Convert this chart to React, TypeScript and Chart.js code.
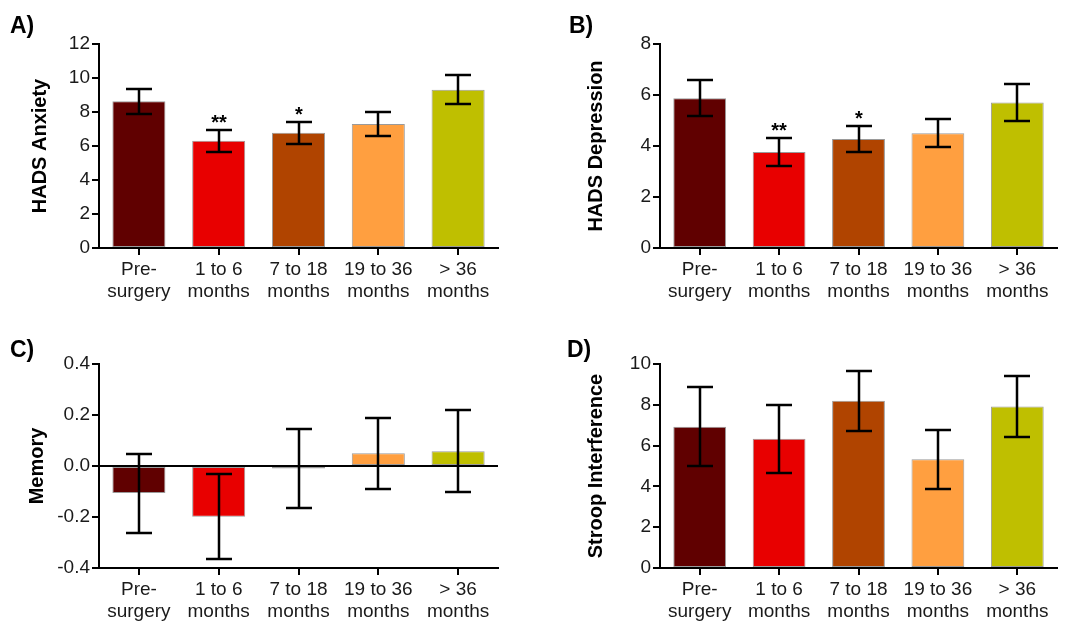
import React, { useEffect, useRef } from "react";
import { Chart, registerables } from "chart.js";

Chart.register(...registerables);

const categories: string[][] = [
  ["Pre-", "surgery"],
  ["1 to 6", "months"],
  ["7 to 18", "months"],
  ["19 to 36", "months"],
  ["> 36", "months"],
];
const barColors = ["#600000", "#E80000", "#B04400", "#FF9F40", "#BFBF00"];

const anxietyMean = [8.63, 6.31, 6.78, 7.29, 9.31];
const anxietyErr = [0.73, 0.65, 0.65, 0.72, 0.86];
const anxietySig = ["", "**", "*", "", ""];

const depressionMean = [5.87, 3.76, 4.27, 4.5, 5.71];
const depressionErr = [0.7, 0.55, 0.5, 0.55, 0.72];
const depressionSig = ["", "**", "*", "", ""];

const memoryMean = [-0.106, -0.199, -0.01, 0.05, 0.058];
const memoryErr = [0.155, 0.166, 0.156, 0.14, 0.161];
const memorySig = ["", "", "", "", ""];

const stroopMean = [6.93, 6.34, 8.2, 5.33, 7.92];
const stroopErr = [1.93, 1.67, 1.47, 1.45, 1.49];
const stroopSig = ["", "", "", "", ""];

const FONT = "'Liberation Sans', Arial, sans-serif";

type Panel = {
  label: string;
  title: string;
  mean: number[];
  err: number[];
  sig: string[];
  min: number;
  max: number;
  step: number;
  decimals: number;
  zeroLine: boolean;
  left: number;
  top: number;
  width: number;
  height: number;
  axisW: number;
  padTop: number;
  padRight: number;
  axisH: number;
  titlePad: number;
  labelX: number;
  labelY: number;
};

const panels: Panel[] = [
  {
    label: "A)", title: "HADS Anxiety", mean: anxietyMean, err: anxietyErr, sig: anxietySig,
    min: 0, max: 12, step: 2, decimals: 0, zeroLine: false,
    left: 0, top: 0, width: 534, height: 310,
    axisW: 99, padTop: 44, padRight: 36, axisH: 62, titlePad: 28, labelX: 10, labelY: 33,
  },
  {
    label: "B)", title: "HADS Depression", mean: depressionMean, err: depressionErr, sig: depressionSig,
    min: 0, max: 8, step: 2, decimals: 0, zeroLine: false,
    left: 534, top: 0, width: 534, height: 310,
    axisW: 126, padTop: 44, padRight: 11, axisH: 62, titlePad: 50, labelX: 35, labelY: 33,
  },
  {
    label: "C)", title: "Memory", mean: memoryMean, err: memoryErr, sig: memorySig,
    min: -0.4, max: 0.4, step: 0.2, decimals: 1, zeroLine: true,
    left: 0, top: 310, width: 534, height: 311,
    axisW: 99, padTop: 54, padRight: 36, axisH: 53, titlePad: 25, labelX: 10, labelY: 47,
  },
  {
    label: "D)", title: "Stroop Interference", mean: stroopMean, err: stroopErr, sig: stroopSig,
    min: 0, max: 10, step: 2, decimals: 0, zeroLine: false,
    left: 534, top: 310, width: 534, height: 311,
    axisW: 126, padTop: 54, padRight: 11, axisH: 53, titlePad: 50, labelX: 33, labelY: 47,
  },
];

function PanelChart({ p }: { p: Panel }) {
  const ref = useRef<HTMLCanvasElement | null>(null);
  useEffect(() => {
    if (!ref.current) return;
    const overlay = {
      id: "errbars",
      afterDatasetsDraw(chart: any) {
        const ctx = chart.ctx;
        const meta = chart.getDatasetMeta(0);
        const ys = chart.scales.y;
        ctx.save();
        ctx.strokeStyle = "#000";
        ctx.lineWidth = 2.5;
        meta.data.forEach((bar: any, i: number) => {
          const m = p.mean[i];
          const e = p.err[i];
          const x = Math.round(bar.x);
          const yh = Math.round(ys.getPixelForValue(m + e));
          const yl = Math.round(ys.getPixelForValue(m - e));
          ctx.beginPath();
          ctx.moveTo(x, yh);
          ctx.lineTo(x, yl);
          ctx.moveTo(x - 13, yh);
          ctx.lineTo(x + 13, yh);
          ctx.moveTo(x - 13, yl);
          ctx.lineTo(x + 13, yl);
          ctx.stroke();
          if (p.sig[i]) {
            ctx.fillStyle = "#000";
            ctx.font = `bold 20px ${FONT}`;
            ctx.textAlign = "center";
            ctx.textBaseline = "alphabetic";
            ctx.fillText(p.sig[i], x, yh - 1);
          }
        });
        ctx.fillStyle = "#000";
        ctx.font = `bold 23px ${FONT}`;
        ctx.textAlign = "left";
        ctx.textBaseline = "alphabetic";
        ctx.fillText(p.label, p.labelX, p.labelY);
        ctx.restore();
      },
    };
    const chart = new Chart(ref.current, {
      type: "bar",
      data: {
        labels: categories,
        datasets: [
          {
            data: p.mean,
            backgroundColor: barColors,
            borderColor: "#9a9a9a",
            borderWidth: 1,
            borderSkipped: false,
            categoryPercentage: 1,
            barPercentage: 0.665,
          },
        ],
      },
      options: {
        animation: false,
        responsive: false,
        devicePixelRatio: 1,
        layout: { padding: { left: 0, top: p.padTop, right: p.padRight, bottom: 0 } },
        plugins: { legend: { display: false }, tooltip: { enabled: false }, title: { display: false } },
        scales: {
          x: {
            type: "category",
            offset: true,
            afterFit: (s: any) => {
              s.height = p.axisH;
            },
            grid: {
              offset: false,
              drawOnChartArea: false,
              drawTicks: true,
              tickLength: 7,
              tickColor: "#000",
              lineWidth: 2,
              z: 1,
            },
            border: { display: true, color: "#000", width: 2, z: 1 },
            ticks: {
              color: "#1a1a1a",
              font: { family: FONT, size: 19 },
              padding: 3,
              maxRotation: 0,
              autoSkip: false,
            },
          },
          y: {
            type: "linear",
            min: p.min,
            max: p.max,
            afterFit: (s: any) => {
              s.width = p.axisW;
            },
            grid: {
              drawOnChartArea: p.zeroLine,
              color: (c: any) =>
                p.zeroLine && c.tick && Math.abs(c.tick.value) < 1e-9 ? "#000" : "rgba(0,0,0,0)",
              tickColor: "#000",
              tickLength: 7,
              lineWidth: 2,
              z: 1,
            },
            border: { display: true, color: "#000", width: 2, z: 1 },
            ticks: {
              stepSize: p.step,
              color: "#1a1a1a",
              font: { family: FONT, size: 19 },
              padding: 2,
              callback: (v: any) => Number(v).toFixed(p.decimals),
            },
            title: {
              display: true,
              text: p.title,
              color: "#000",
              font: { family: FONT, size: 20, weight: "bold" },
              padding: { top: p.titlePad, bottom: 0 },
            },
          },
        },
      },
      plugins: [overlay],
    } as any);
    return () => chart.destroy();
  }, [p]);
  return (
    <canvas
      ref={ref}
      width={p.width}
      height={p.height}
      style={{ position: "absolute", left: p.left, top: p.top, width: p.width, height: p.height }}
    />
  );
}

export default function App() {
  return (
    <div style={{ position: "absolute", left: 0, top: 0, width: 1068, height: 621, background: "#fff", overflow: "hidden" }}>
      {panels.map((p) => (
        <PanelChart key={p.label} p={p} />
      ))}
    </div>
  );
}
